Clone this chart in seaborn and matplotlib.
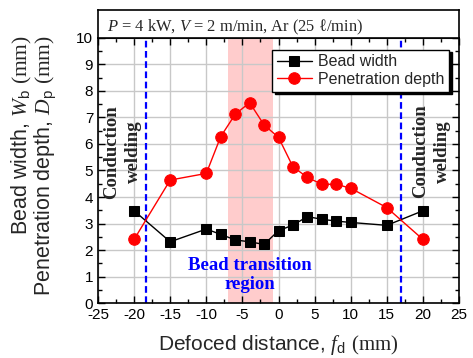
import matplotlib
matplotlib.use("Agg")
import matplotlib.pyplot as plt
import seaborn as sns
from matplotlib.ticker import MultipleLocator

# values
defocus = [-20, -15, -10, -8, -6, -4, -2, 0, 2, 4, 6, 8, 10, 15, 20]
bead_width = [3.48, 2.31, 2.79, 2.59, 2.38, 2.31, 2.21, 2.73, 2.94, 3.26, 3.16, 3.09, 3.04, 2.93, 3.48]
pen_depth = [2.40, 4.64, 4.89, 6.28, 7.12, 7.56, 6.72, 6.25, 5.14, 4.74, 4.48, 4.48, 4.33, 3.60, 2.40]
boundary_left = -18.35
boundary_right = 17.0
transition_span = (-7.0, -0.8)

sns.set_style("ticks")
plt.rcParams["font.family"] = ["Liberation Sans", "DejaVu Sans"]
plt.rcParams["mathtext.fontset"] = "custom"
plt.rcParams["mathtext.rm"] = "Liberation Serif"
plt.rcParams["mathtext.it"] = "Liberation Serif:italic"
plt.rcParams["mathtext.bf"] = "Liberation Serif:bold"
plt.rcParams["mathtext.sf"] = "Liberation Sans"
plt.rcParams["axes.unicode_minus"] = False

fig = plt.figure(figsize=(4.73, 3.58), dpi=100)
ax = fig.add_axes([0.2072, 0.1536, 0.7632, 0.7403])
tax = fig.add_axes([0.2072, 0.8939, 0.7632, 0.0782])  # parameter strip above the plot

# shaded transition region and mode boundaries
ax.axvspan(*transition_span, color="#ffcccc", lw=0, zorder=0.2)
for xb in (boundary_left, boundary_right):
    ax.axvline(xb, color="#0000ff", ls=(0, (3, 1.6)), lw=1.6, zorder=1.5)

sns.lineplot(x=defocus, y=bead_width, ax=ax, color="k", lw=1.0, marker="s",
             markersize=7.5, markeredgecolor="k", markerfacecolor="k",
             label="Bead width", zorder=3)
sns.lineplot(x=defocus, y=pen_depth, ax=ax, color="#ff0000", lw=1.0, marker="o",
             markersize=8.3, markeredgecolor="#ff0000", markerfacecolor="#ff0000",
             label="Penetration depth", zorder=3)

ax.set_xlim(-25, 25)
ax.set_ylim(0, 10)
ax.xaxis.set_major_locator(MultipleLocator(5))
ax.xaxis.set_minor_locator(MultipleLocator(2.5))
ax.yaxis.set_major_locator(MultipleLocator(1))
ax.yaxis.set_minor_locator(MultipleLocator(0.5))
ax.set_axisbelow(True)
ax.grid(True, which="major", color="#c8c8c8", lw=1.0)
ax.tick_params(which="both", direction="in", top=True, right=True, colors="k",
               labelsize=11, width=1.0)
ax.tick_params(which="major", length=5)
ax.tick_params(which="minor", length=3)
for sp in ax.spines.values():
    sp.set_color("k")
    sp.set_linewidth(1.2)

ax.set_xlabel(r"Defoced distance, $f_\mathsf{d}$ $\mathrm{(mm)}$", fontsize=15, labelpad=8)
ax.set_ylabel("Bead width, $W_\\mathsf{b}$ $\\mathrm{(mm)}$\n"
              "Penetration depth, $D_\\mathsf{p}$ $\\mathrm{(mm)}$",
              fontsize=15.5, multialignment="right", linespacing=0.95)
ax.yaxis.set_label_coords(-0.11, 0.52)

serif = ["Liberation Serif", "DejaVu Serif"]
ax.text(-21.6, 5.7, "Conduction\nwelding", rotation=90, ha="center", va="center",
        multialignment="center", fontsize=13.5, fontweight="bold", family=serif,
        linespacing=1.35)
ax.text(21.15, 5.72, "Conduction\nwelding", rotation=90, ha="center", va="center",
        multialignment="center", fontsize=13.5, fontweight="bold", family=serif,
        linespacing=1.35)
ax.text(-4.0, 1.06, "Bead transition\nregion", ha="center", va="center",
        multialignment="center", fontsize=13.5, fontweight="bold", color="#0000ff",
        family=serif, linespacing=1.15)

leg = ax.legend(loc="upper right", bbox_to_anchor=(1.0, 0.992), fontsize=11.5,
                frameon=True, fancybox=False, shadow={"color": "k", "alpha": 1.0},
                borderaxespad=0.6, handlelength=2.2, handletextpad=0.4,
                borderpad=0.3, labelspacing=0.15)
leg.get_frame().set_edgecolor("k")
leg.get_frame().set_linewidth(1.0)
leg.get_frame().set_alpha(1.0)

tax.set_xticks([])
tax.set_yticks([])
for sp in tax.spines.values():
    sp.set_color("k")
    sp.set_linewidth(1.2)
tax.text(0.024, 0.38, "$P$ = 4 kW, $V$ = 2 m/min, Ar (25 \u2113/min)", transform=tax.transAxes,
         ha="left", va="center", fontsize=11.9, family=serif)

fig.savefig("out.png", dpi=100)
